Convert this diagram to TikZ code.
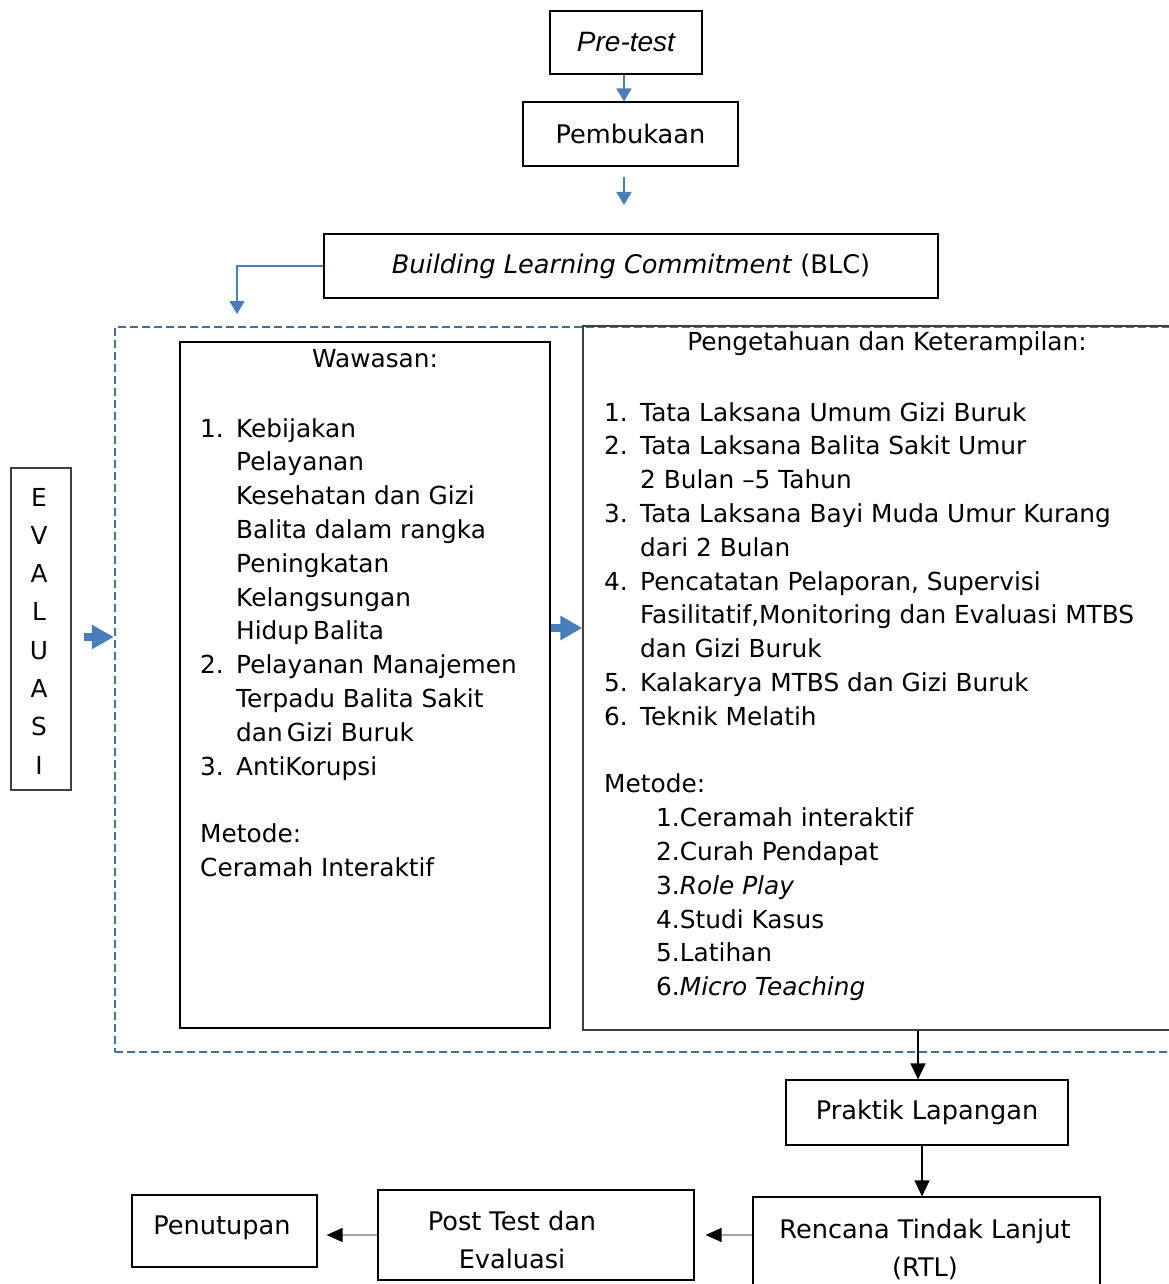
\documentclass[tikz,border=0pt]{standalone}
\usepackage{fontspec}
\setmainfont{DejaVu Sans}
\newfontfamily\arialfont{Liberation Sans}
\usetikzlibrary{arrows.meta, positioning}
\definecolor{flowBlue}{HTML}{4A7EBB}
\definecolor{dashBlue}{HTML}{41719C}
\definecolor{lineGray}{HTML}{A6A6A6}
\newcommand{\bodyfont}{\fontsize{24.8}{33.8}\selectfont}
\newcommand{\boxfont}{\fontsize{25.6}{38}\selectfont}
\newcommand{\num}[1]{\makebox[36pt][l]{#1}}

\begin{document}
\begin{tikzpicture}[x=1pt, y=-1pt,
  box/.style={draw=black, line width=1.2pt, inner sep=0pt, font=\boxfont},
  txt/.style={inner sep=0pt, font=\bodyfont},
  bluearr/.style={draw=flowBlue, line width=1.8pt, -{Triangle[length=13pt, width=15pt]}},
  fatarr/.style={draw=flowBlue, line width=8pt, -{Triangle[length=22pt, width=23pt]}},
  blackarr/.style={draw=black, line width=1.2pt, -{Triangle[length=16pt, width=15pt]}},
  grayarr/.style={draw=lineGray, line width=1.5pt, -{Triangle[length=16pt, width=14pt, color=black]}},
  dashbox/.style={draw=dashBlue, line width=2.2pt, dash pattern=on 8pt off 4pt, inner sep=0pt}
]
  \useasboundingbox (0,0) rectangle (1168,1284);

  % top of the flow
  \node[box, minimum width=152pt, minimum height=63pt] (pre) at (626,42.5)
    {\arialfont\itshape\fontsize{28}{30}\selectfont Pre-test};
  \node[box, minimum width=215pt, minimum height=64pt] (pem) at (630.5,134) {Pembukaan};
  \node[box, minimum width=614pt, minimum height=64pt] (blc) at (631,266)
    {\textit{Building Learning Commitment} (BLC)};
  \coordinate (gapA) at (624,177);
  \coordinate (gapB) at (624,205);
  \coordinate (blcdrop) at (237,314);

  \draw[bluearr] ([xshift=-2pt]pre.south) -- ([xshift=-2pt]pre.south |- pem.north);
  \draw[bluearr] (gapA) -- (gapB);
  \draw[bluearr] (blc.west) -| (blcdrop);

  % modul block
  \node[dashbox, minimum width=1095pt, minimum height=725pt] (modul) at (662.5,689.5) {};
  \node[box, minimum width=370pt, minimum height=686pt] (waw) at (365,685) {};
  \node[box, draw=black!75, minimum width=627pt, minimum height=704pt] (ket) at (896.5,678) {};

  \node[txt] (wawhead) at (375,359) {Wawasan:};
  \node[txt, anchor=north west] (wawlist) at (200,413.3) {%
    \begin{tabular}{@{}l@{}l@{}}
      \num{1.} & Kebijakan\\
      & Pelayanan\\
      & Kesehatan dan Gizi\\
      & Balita dalam rangka\\
      & Peningkatan\\
      & Kelangsungan\\
      & Hidup\,Balita\\
      \num{2.} & Pelayanan Manajemen\\
      & Terpadu Balita Sakit\\
      & dan\,Gizi Buruk\\
      \num{3.} & AntiKorupsi\\
      & \\
      \multicolumn{2}{@{}l@{}}{Metode:}\\
      \multicolumn{2}{@{}l@{}}{Ceramah Interaktif}
    \end{tabular}};

  \node[txt] (kethead) at (887,344) {Pengetahuan dan Keterampilan:};
  \node[txt, anchor=north west] (ketlist) at (604,397.3) {%
    \begin{tabular}{@{}l@{}l@{}}
      \num{1.} & Tata Laksana Umum Gizi Buruk\\
      \num{2.} & Tata Laksana Balita Sakit Umur\\
      & 2 Bulan --5 Tahun\\
      \num{3.} & Tata Laksana Bayi Muda Umur Kurang\\
      & dari 2 Bulan\\
      \num{4.} & Pencatatan Pelaporan, Supervisi\\
      & Fasilitatif,Monitoring dan Evaluasi MTBS\\
      & dan Gizi Buruk\\
      \num{5.} & Kalakarya MTBS dan Gizi Buruk\\
      \num{6.} & Teknik Melatih\\
      & \\
      \multicolumn{2}{@{}l@{}}{Metode:}\\
      \multicolumn{2}{@{}l@{}}{\hspace*{52pt}1.Ceramah interaktif}\\
      \multicolumn{2}{@{}l@{}}{\hspace*{52pt}2.Curah Pendapat}\\
      \multicolumn{2}{@{}l@{}}{\hspace*{52pt}3.\textit{Role Play}}\\
      \multicolumn{2}{@{}l@{}}{\hspace*{52pt}4.Studi Kasus}\\
      \multicolumn{2}{@{}l@{}}{\hspace*{52pt}5.Latihan}\\
      \multicolumn{2}{@{}l@{}}{\hspace*{52pt}6.\textit{Micro Teaching}}
    \end{tabular}};

  % evaluasi side
  \node[box, draw=black!75, minimum width=60pt, minimum height=322pt] (eval) at (41,629) {};
  \foreach \l [count=\i] in {E,V,A,L,U,A,S,I}
    \node[txt] (ev\i) at (39,497+38.3*\i-38.3) {\l};
  \coordinate (evalout) at (84,637);
  \coordinate (wawout) at (551,628);
  \draw[fatarr] (evalout) -- (evalout -| modul.west);
  \draw[fatarr] (wawout) -- (wawout -| ket.west);

  % bottom of the flow
  \node[box, minimum width=282pt, minimum height=65pt] (prak) at (927,1112.5) {Praktik Lapangan};
  \node[box, minimum width=347pt, minimum height=100pt, align=center] (rtl) at (926.5,1247) {};
  \node[txt, align=center, font=\boxfont] (rtltxt) at (925,1249) {Rencana Tindak Lanjut\\(RTL)};
  \node[box, minimum width=316pt, minimum height=90pt] (post) at (536,1235) {};
  \node[txt, align=center, font=\boxfont] (posttxt) at (512,1240)
    {Post Test dan\\Evaluasi};
  \node[box, minimum width=185pt, minimum height=72pt] (pen) at (224.5,1231) {};
  \node[txt, font=\boxfont] (pentxt) at (222,1228) {Penutupan};

  \draw[blackarr] ([xshift=-9pt]prak.north |- ket.south) -- ([xshift=-9pt]prak.north);
  \draw[blackarr] ([xshift=-5pt]prak.south) -- ([xshift=-5pt]prak.south |- rtl.north);
  \draw[grayarr, shorten >=11pt] ([yshift=12pt]rtl.west) -- ([yshift=12pt]rtl.west -| post.east);
  \draw[grayarr, shorten >=9pt] (post.west) -- (post.west -| pen.east);
\end{tikzpicture}
\end{document}
